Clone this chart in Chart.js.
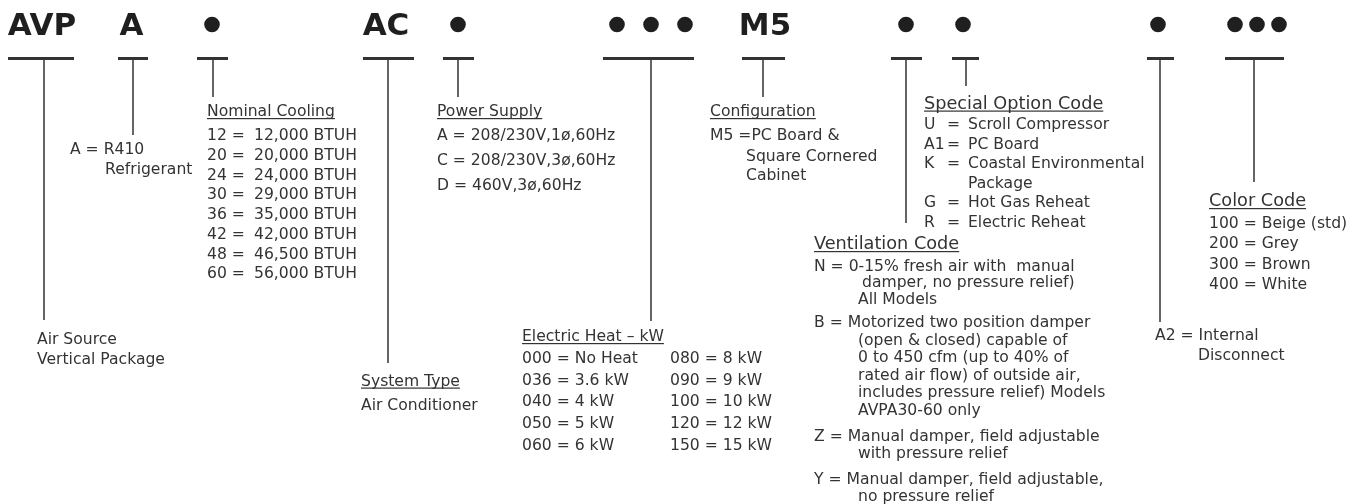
<!DOCTYPE html>
<html>
<head>
<meta charset="utf-8">
<script src="https://cdn.jsdelivr.net/npm/chart.js@4.4.1/dist/chart.umd.min.js"></script>
<style>
    html, body { margin: 0; padding: 0; background: #fff; }
    canvas { display: block; }
</style>
</head>
<body>
<canvas id="nomenclature" width="1362" height="504"></canvas>
<script>
// Model number segments, left to right
const codeLabels = ['AVP', 'A', '●', 'AC', '●', '●●●', 'M5', '●', '●', '●', '●●●'];

// Descriptions under each segment
const productType = ['Air Source', 'Vertical Package'];
const refrigerant = ['A = R410', 'Refrigerant'];
const coolingCodes = ['12 =', '20 =', '24 =', '30 =', '36 =', '42 =', '48 =', '60 ='];
const coolingBtuh = ['12,000 BTUH', '20,000 BTUH', '24,000 BTUH', '29,000 BTUH',
    '35,000 BTUH', '42,000 BTUH', '46,500 BTUH', '56,000 BTUH'];
const systemType = ['Air Conditioner'];
const powerSupply = ['A = 208/230V,1ø,60Hz', 'C = 208/230V,3ø,60Hz', 'D = 460V,3ø,60Hz'];
const heatLeft = ['000 = No Heat', '036 = 3.6 kW', '040 = 4 kW', '050 = 5 kW', '060 = 6 kW'];
const heatRight = ['080 = 8 kW', '090 = 9 kW', '100 = 10 kW', '120 = 12 kW', '150 = 15 kW'];
const configuration = ['M5 =PC Board &', 'Square Cornered', 'Cabinet'];
const ventilation = [
    ['N = 0-15% fresh air with  manual', 'damper, no pressure relief)', 'All Models'],
    ['B = Motorized two position damper', '(open & closed) capable of', '0 to 450 cfm (up to 40% of',
        'rated air flow) of outside air,', 'includes pressure relief) Models', 'AVPA30-60 only'],
    ['Z = Manual damper, field adjustable', 'with pressure relief'],
    ['Y = Manual damper, field adjustable,', 'no pressure relief']
];
const specialCodes = ['U', 'A1', 'K', '', 'G', 'R'];
const specialText = ['Scroll Compressor', 'PC Board', 'Coastal Environmental', 'Package',
    'Hot Gas Reheat', 'Electric Reheat'];
const disconnect = ['A2 = Internal', 'Disconnect'];
const colorCode = ['100 = Beige (std)', '200 = Grey', '300 = Brown', '400 = White'];

// Layout (pixel-like units on the hidden scales)
const segX = [42, 131.5, 212, 386, 458, 651, 765, 906, 963, 1158, 1246];
const dotSpread = { 5: [617, 651, 685], 10: [1235, 1257, 1279] };
const barFrom = [8, 118, 197, 363, 443, 603, 742, 891, 952, 1147, 1225];
const barTo = [74, 148, 228, 414, 474, 694, 785, 922, 979, 1174, 1284];
const stemX = [44, 133, 213, 388, 458, 651, 763, 906, 966, 1160, 1254];
const stemEnd = [320, 135, 97, 363, 97, 321, 97, 223, 86, 322, 182];
const barY = 58.5;
const dotY = 24.5;

const INK = '#333333';
const FONT = '"DejaVu Sans", Verdana, sans-serif';

function buildDatasets() {
    const sets = [];
    codeLabels.forEach(function(label, i) {
        sets.push({
            type: 'line',
            data: [{ x: barFrom[i], y: barY }, { x: barTo[i], y: barY }],
            borderColor: INK, borderWidth: 3, pointRadius: 0, clip: false
        });
        sets.push({
            type: 'line',
            data: [{ x: stemX[i], y: barY }, { x: stemX[i], y: stemEnd[i] }],
            borderColor: INK, borderWidth: 1.5, pointRadius: 0, clip: false
        });
    });
    const dots = [];
    codeLabels.forEach(function(label, i) {
        if (label.indexOf('●') === -1) return;
        const xs = dotSpread[i] || [segX[i]];
        xs.forEach(function(x) { dots.push({ x: x, y: dotY }); });
    });
    sets.push({
        type: 'scatter',
        data: dots,
        pointRadius: 7.8,
        pointBackgroundColor: '#1f1f1f',
        pointBorderWidth: 0,
        clip: false
    });
    return sets;
}

const textPlugin = {
    id: 'nomenclatureText',
    afterDatasetsDraw(chart) {
        const ctx = chart.ctx;
        const sx = chart.scales.x, sy = chart.scales.y;
        const px = v => sx.getPixelForValue(v);
        const py = v => sy.getPixelForValue(v);

        function text(str, x, y, size, opts) {
            opts = opts || {};
            ctx.font = (opts.bold ? 'bold ' : '') + size + 'px ' + FONT;
            ctx.fillStyle = opts.color || INK;
            ctx.textAlign = opts.align || 'left';
            ctx.textBaseline = 'alphabetic';
            ctx.fillText(str, px(x), py(y));
            if (opts.underline) {
                const w = ctx.measureText(str).width;
                ctx.fillRect(px(x), py(y) + 2, w, 1.2);
            }
        }
        function lines(arr, x, y, step, size) {
            arr.forEach(function(s, i) { text(s, x, y + i * step, size); });
        }

        ctx.save();
        // Bold codes across the top
        codeLabels.forEach(function(label, i) {
            if (label.indexOf('●') !== -1) return;
            text(label, segX[i], 35, 31, { bold: true, align: 'center', color: '#1f1f1f' });
        });

        const S = 15.6, H = 17.7;
        lines(productType, 37, 344, 20, S);
        text(refrigerant[0], 70, 154, S);
        text(refrigerant[1], 105, 174, S);

        text('Nominal Cooling', 207, 116, S, { underline: true });
        coolingCodes.forEach(function(c, i) {
            text(c, 207, 140 + i * 19.75, S);
            text(coolingBtuh[i], 254, 140 + i * 19.75, S);
        });

        text('System Type', 361, 385.5, S, { underline: true });
        text(systemType[0], 361, 410, S);

        text('Power Supply', 437, 116, S, { underline: true });
        lines(powerSupply, 437, 140, 25, S);

        text('Electric Heat – kW', 522, 341, S, { underline: true });
        lines(heatLeft, 522, 363, 21.7, S);
        lines(heatRight, 670, 363, 21.7, S);

        text('Configuration', 710, 116, S, { underline: true });
        text(configuration[0], 710, 140, S);
        text(configuration[1], 746, 160.5, S);
        text(configuration[2], 746, 180, S);

        text('Special Option Code', 924, 108.5, H, { underline: true });
        specialCodes.forEach(function(c, i) {
            const y = 129 + i * 19.5;
            if (c) {
                text(c, 924, y, S);
                text('=', 947, y, S);
            }
            text(specialText[i], 968, y, S);
        });

        text('Ventilation Code', 814, 249, H, { underline: true });
        const ventY = [[271, 287, 304], [327, 344.5, 362, 379.5, 397, 414.5], [441, 458], [484, 500.5]];
        ventilation.forEach(function(item, k) {
            item.forEach(function(s, j) {
                const x = j === 0 ? 814 : (k === 0 && j === 1 ? 862 : 858);
                text(s, x, ventY[k][j], S);
            });
        });

        text(disconnect[0], 1155, 340, S);
        text(disconnect[1], 1198, 360, S);

        text('Color Code', 1209, 206, H, { underline: true });
        lines(colorCode, 1209, 227.7, 20.5, S);
        ctx.restore();
    }
};

document.addEventListener('DOMContentLoaded', function() {
    const ctx = document.getElementById('nomenclature').getContext('2d');
    new Chart(ctx, {
        type: 'scatter',
        data: { datasets: buildDatasets() },
        options: {
            responsive: false,
            animation: false,
            devicePixelRatio: 1,
            layout: { padding: 0, autoPadding: false },
            events: [],
            plugins: {
                legend: { display: false },
                tooltip: { enabled: false }
            },
            scales: {
                x: { type: 'linear', min: 0, max: 1362, display: false },
                y: { type: 'linear', min: 0, max: 504, reverse: true, display: false }
            }
        },
        plugins: [textPlugin]
    });
});
</script>
</body>
</html>
